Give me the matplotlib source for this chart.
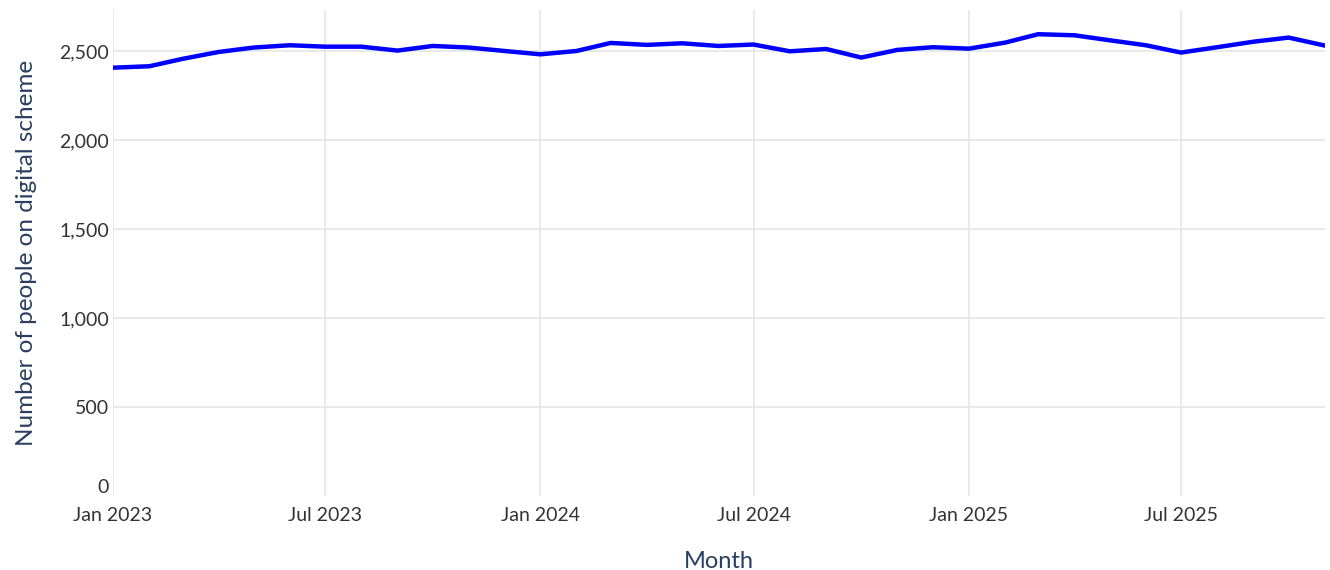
import matplotlib
matplotlib.use("Agg")
import matplotlib.pyplot as plt
import matplotlib.dates as mdates
import pandas as pd

months = pd.date_range("2023-01-01", "2025-11-01", freq="MS")
people = [2406, 2414, 2455, 2494, 2519, 2532, 2524, 2524, 2502, 2528, 2519, 2500,
          2481, 2500, 2545, 2534, 2543, 2528, 2536, 2498, 2511, 2463, 2506, 2521,
          2513, 2547, 2594, 2588, 2560, 2532, 2491, 2521, 2552, 2575, 2530]
x_ticks = pd.to_datetime(["2023-01-01", "2023-07-01", "2024-01-01", "2024-07-01",
                          "2025-01-01", "2025-07-01"])
x_tick_labels = ["Jan 2023", "Jul 2023", "Jan 2024", "Jul 2024", "Jan 2025", "Jul 2025"]
y_ticks = [0, 500, 1000, 1500, 2000, 2500]
y_tick_labels = ["0", "500", "1,000", "1,500", "2,000", "2,500"]

plt.rcParams['font.family'] = ['Lato', 'DejaVu Sans']

fig = plt.figure(figsize=(13.3, 5.7), dpi=100)
ax = fig.add_axes([113/1330, 74/570, (1325-113)/1330, (496-10)/570])

ax.plot(months, people, color="#0000ff", linewidth=3.2, solid_joinstyle="round",
        solid_capstyle="round", zorder=3)

ax.set_xlim(months[0], months[-1])
ax.set_ylim(0, 2730)
ax.set_xticks(x_ticks)
ax.set_xticklabels(x_tick_labels)
ax.set_yticks(y_ticks)
ax.set_yticklabels(y_tick_labels)

ax.grid(True, axis="x", color="#e5e5e5", linewidth=1.2, zorder=0)
for yv in y_ticks[1:]:
    ax.axhline(yv, color="#e5e5e5", linewidth=1.2, zorder=0)
ax.set_axisbelow(True)
for s in ax.spines.values():
    s.set_visible(False)
ax.tick_params(axis="both", length=0, labelsize=14, labelcolor="#333333")
ax.tick_params(axis="x", pad=8)
ax.tick_params(axis="y", pad=3)
# lift the "0" label slightly so it doesn't collide with "Jan 2023"
ax.get_yticklabels()[0].set_verticalalignment("bottom")

ax.set_xlabel("Month", fontsize=17, color="#2a3f5f", labelpad=19)
ax.set_ylabel("Number of people on digital scheme", fontsize=17.5, color="#2a3f5f", labelpad=16)

fig.savefig("out.png", dpi=100, facecolor="white")
